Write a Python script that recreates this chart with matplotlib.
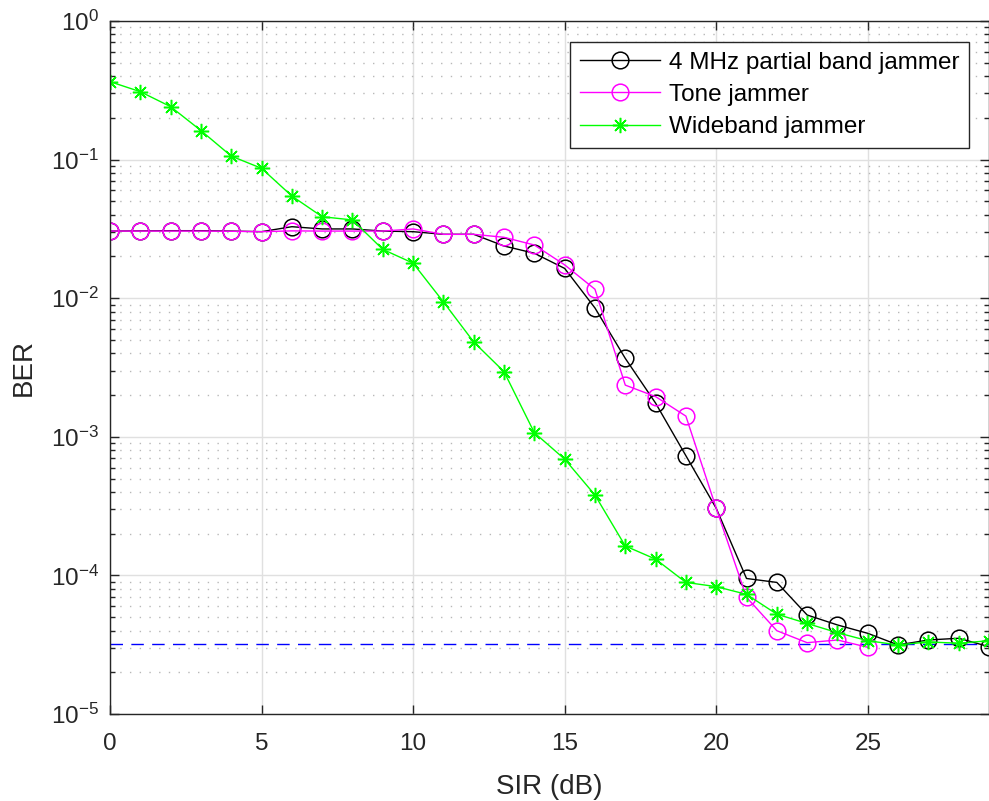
import numpy as np
import matplotlib
matplotlib.use("Agg")
import matplotlib.pyplot as plt
from matplotlib.ticker import LogLocator, FixedLocator, NullFormatter

plt.rcParams['font.family'] = ['Liberation Sans', 'DejaVu Sans']
plt.rcParams['axes.unicode_minus'] = False

sir = list(range(0, 30))

ber_partial_band = [0.0305, 0.0306, 0.0307, 0.0307, 0.0305, 0.0302, 0.0328, 0.0316, 0.0316, 0.0305,
                    0.0302, 0.0289, 0.0289, 0.0238, 0.0211, 0.0164, 0.0085, 0.00368, 0.00175, 0.00073,
                    0.000305, 9.5e-5, 8.9e-5, 5.18e-5, 4.39e-5, 3.82e-5, 3.15e-5, 3.42e-5, 3.52e-5, 3.06e-5]

sir_tone = list(range(0, 26))
ber_tone = [0.0305, 0.0305, 0.0305, 0.0305, 0.0304, 0.0302, 0.0306, 0.0305, 0.0305, 0.0305,
            0.0316, 0.0289, 0.0289, 0.0275, 0.0242, 0.0174, 0.0116, 0.00236, 0.00195, 0.00141,
            0.000305, 6.95e-5, 3.99e-5, 3.27e-5, 3.42e-5, 3.03e-5]

ber_wideband = [0.365, 0.309, 0.241, 0.162, 0.106, 0.0865, 0.0546, 0.0387, 0.0367, 0.0225,
                0.0179, 0.0094, 0.00483, 0.00295, 0.00107, 0.00069, 0.00038, 0.000163, 0.000131, 8.9e-5,
                8.3e-5, 7.3e-5, 5.25e-5, 4.5e-5, 3.86e-5, 3.38e-5, 3.15e-5, 3.31e-5, 3.24e-5, 3.38e-5]

ber_floor = 3.2e-5

labels = ["4 MHz partial band jammer", "Tone jammer", "Wideband jammer"]

W, H = 989, 801
fig = plt.figure(figsize=(W / 100, H / 100), dpi=100)
ax = fig.add_axes([110 / W, (H - 714) / H, (989 - 110) / W, (714 - 21) / H])

ax.plot(sir, ber_partial_band, color='black', marker='o', markersize=12,
        markerfacecolor='none', markeredgewidth=1.1, linewidth=1.0, label=labels[0])
ax.plot(sir_tone, ber_tone, color='#ff00ff', marker='o', markersize=12,
        markerfacecolor='none', markeredgewidth=1.1, linewidth=1.0, label=labels[1])
ax.plot(sir, ber_wideband, color='#00ff00', marker=(8, 2, 0), markersize=11,
        markeredgewidth=1.1, linewidth=1.0, label=labels[2])
ax.plot([sir[0], sir[-1]], [ber_floor, ber_floor], color='blue', linestyle=(0, (9, 6)),
        linewidth=1.0, zorder=1)

ax.set_yscale('log')
ax.set_xlim(0, 29)
ax.set_ylim(1e-5, 1)
ax.xaxis.set_major_locator(FixedLocator([0, 5, 10, 15, 20, 25]))
ax.yaxis.set_major_locator(LogLocator(base=10, numticks=10))
ax.yaxis.set_minor_locator(LogLocator(base=10, subs=np.arange(2, 10), numticks=20))
ax.yaxis.set_minor_formatter(NullFormatter())

ax.grid(True, which='major', color='#e0e0e0', linewidth=1.0, linestyle='-')
ax.grid(True, which='minor', axis='y', color='#b8b8b8', linewidth=1.0, linestyle=(0, (1, 6)))
ax.set_axisbelow(True)

ax.tick_params(which='both', direction='in', top=True, right=True,
               labelsize=17.5, colors='#262626', width=1.0)
ax.tick_params(which='major', length=6.5)
ax.tick_params(which='minor', length=3.5)
ax.tick_params(axis='x', pad=14)
ax.tick_params(axis='y', pad=8)
for s in ax.spines.values():
    s.set_color('#262626')
    s.set_linewidth(1.0)

ax.set_xlabel('SIR (dB)', fontsize=20, color='#262626', labelpad=13)
ax.set_ylabel('BER', fontsize=20, color='#262626', labelpad=10)

leg = ax.legend(loc='upper right', bbox_to_anchor=((969 - 110) / 879, (714 - 42) / 693),
                borderaxespad=0, fontsize=17.5,
                fancybox=False, edgecolor='#262626', framealpha=1.0,
                borderpad=0.4, labelspacing=0.42, handlelength=3.3, handletextpad=0.35)
leg.get_frame().set_linewidth(1.0)

fig.savefig('out.png', dpi=100)
